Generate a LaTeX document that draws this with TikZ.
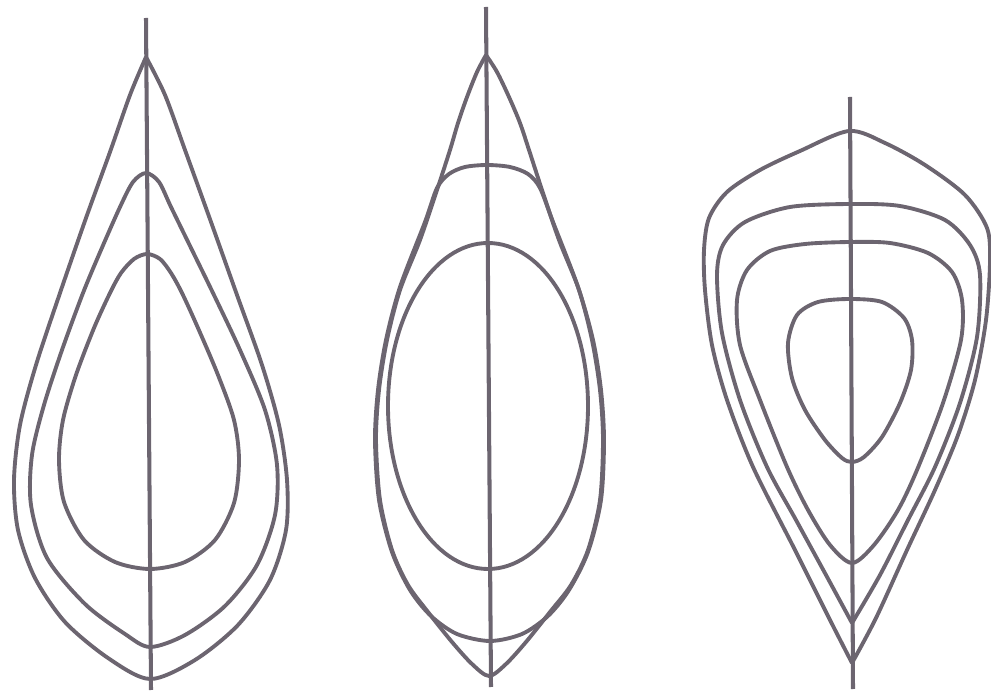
\documentclass[tikz,border=0pt]{standalone}
\usepackage{tikz}

\definecolor{inkgrey}{HTML}{6C6570}

\begin{document}
\begin{tikzpicture}[x=0.02cm,y=-0.02cm,
    contour/.style={draw=inkgrey,line width=2.2pt,line join=round},
    axisline/.style={draw=inkgrey,line width=2.3pt}]
    \useasboundingbox (0,0) rectangle (991,692);

    % left: pointed top
    \draw[axisline] (146,18) -- (151,690);
    \draw[contour] plot[smooth] coordinates {(146,57) (130,95) (110,152) (86,218) (60,293)
      (36,365) (20,425) (14,480) (18,530) (35,578) (65,622) (108,658) (150,679)
      (195,660) (238,625) (270,580) (286,530) (287,480) (279,425) (262,365) (237,295)
      (211,222) (185,150) (165,95) (146,57)};
    \draw[contour] plot[smooth cycle] coordinates {(146,173) (133,182) (120,207) (101,250)
      (83,293) (62,350) (44,405) (32,455) (31,505) (47,558) (85,604) (125,634) (150,647)
      (185,635) (225,606) (257,565) (275,515) (277,465) (265,410) (240,350) (213,293)
      (192,250) (171,207) (159,182)};
    \draw[contour] plot[smooth cycle] coordinates {(147,254) (134,259) (121,273) (110,293)
      (94,328) (76,375) (63,420) (59,460) (64,502) (84,540) (115,562) (150,569) (185,562)
      (215,540) (234,503) (239,460) (234,420) (218,375) (198,328) (182,293) (171,273)
      (160,259)};

    % middle: lens
    \draw[axisline] (486,7) -- (491,687);
    \draw[contour] plot[smooth] coordinates {(486,55) (477,72) (467,97) (458,123) (450,150)
      (437,190) (420,240) (400,290) (387,340) (379,390) (376,440) (380,500) (392,550)
      (408,585) (428,612) (452,642) (472,664) (489,676) (506,664) (526,642) (550,612)
      (571,585) (588,550) (600,500) (603,440) (600,390) (592,340) (579,290) (559,240)
      (542,190) (529,150) (520,123) (509,97) (497,72) (486,55)};
    \draw[contour] plot[smooth cycle] coordinates {(487,165) (465,167) (449,174) (437,188)
      (425,222) (400,287) (386,340) (378,390) (375,440) (379,500) (392,552) (410,590)
      (431,616) (457,634) (490,641) (522,634) (548,616) (569,590) (588,552) (601,500)
      (604,440) (601,390) (593,340) (578,287) (553,222) (540,188) (528,174) (510,167)};
    \draw[contour] (488,406) ellipse[x radius=100,y radius=163];

    % right: pointed bottom
    \draw[axisline] (850,97) -- (853,689);
    \draw[contour] plot[smooth] coordinates {(852,663) (830,620) (795,550) (753,467)
      (727,400) (712,345) (705,290) (704,250) (709,218) (727,192) (760,170) (800,151)
      (849,131) (885,143) (925,165) (965,195) (987,228) (990,262) (986,320) (975,380)
      (958,435) (935,490) (907,550) (876,618) (852,663)};
    \draw[contour] plot[smooth] coordinates {(852,623) (826,575) (796,520) (767,467)
      (740,400) (722,333) (717,275) (723,245) (745,222) (790,207) (850,204) (900,206)
      (945,220) (970,245) (980,275) (977,337) (960,403) (935,467) (908,520) (880,575)
      (852,623)};
    \draw[contour] plot[smooth cycle] coordinates {(850,242) (805,244) (770,251) (747,270)
      (737,300) (740,345) (760,400) (787,467) (808,510) (830,545) (852,563) (874,545)
      (898,510) (917,470) (943,403) (961,340) (962,300) (952,272) (928,253) (890,243)};
    \draw[contour] plot[smooth cycle] coordinates {(850,299) (818,302) (797,315) (788,343)
      (792,378) (805,410) (825,440) (842,458) (852,462) (864,457) (882,437) (900,403)
      (911,370) (912,340) (904,318) (882,302)};
\end{tikzpicture}
\end{document}
